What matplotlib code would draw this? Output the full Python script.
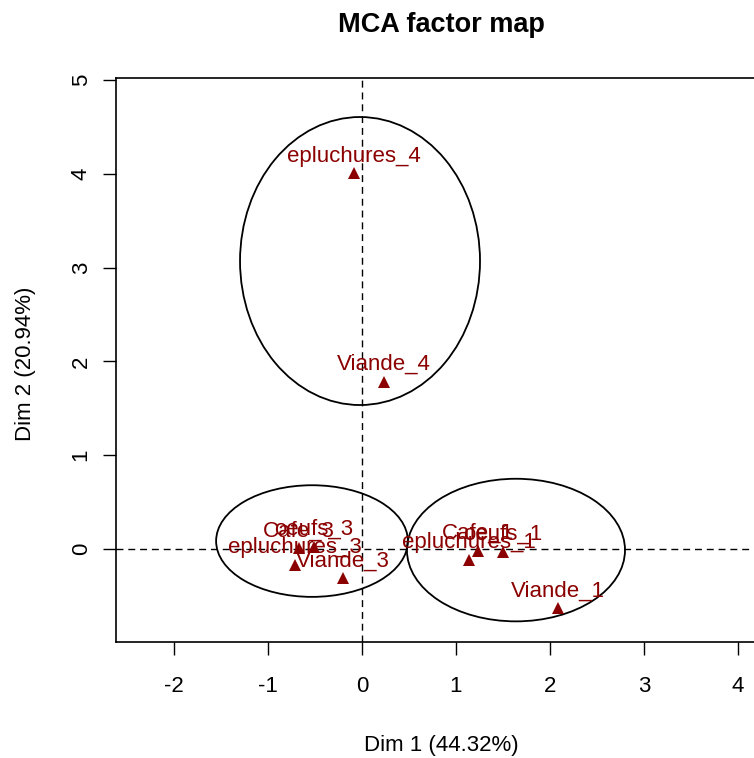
import matplotlib
matplotlib.use("Agg")
import matplotlib.pyplot as plt
from matplotlib.patches import Ellipse

plt.rcParams['font.family'] = ['Liberation Sans', 'DejaVu Sans']

# Category coordinates
labels = ["epluchures_4", "Viande_4", "epluchures_3", "Cafe_3", "oeufs_3", "Viande_3",
          "epluchures_1", "Cafe_1", "oeufs_1", "Viande_1"]
dim1 = [-0.082, 0.234, -0.713, -0.670, -0.511, -0.205, 1.141, 1.237, 1.497, 2.088]
dim2 = [4.005, 1.784, -0.171, 0.007, 0.025, -0.312, -0.117, -0.018, -0.029, -0.631]

# Ellipses: centre x, centre y, width, height
ell_cx = [-0.021, -0.532, 1.638]
ell_cy = [3.07, 0.085, -0.011]
ell_w = [2.553, 2.04, 2.32]
ell_h = [3.07, 1.19, 1.52]

xticks = [-2, -1, 0, 1, 2, 3, 4]
yticks = [0, 1, 2, 3, 4, 5]

W, H = 754, 758
fig = plt.figure(figsize=(W / 100, H / 100), dpi=100)
left, right, top, bottom = 116, 766, 78, 642
ax = fig.add_axes([left / W, 1 - bottom / H, (right - left) / W, (bottom - top) / H])
ax.set_xlim(-2.617, 4.298)
ax.set_ylim(-0.991, 5.021)

col = '#8B0000'
ax.axhline(0, color='black', lw=1.0, dashes=(5, 3.5), zorder=1)
ax.axvline(0, color='black', lw=1.0, dashes=(5, 3.5), zorder=1)

for cx, cy, w, h in zip(ell_cx, ell_cy, ell_w, ell_h):
    ax.add_patch(Ellipse((cx, cy), w, h, fill=False, edgecolor='black', lw=1.3, zorder=2))

ax.plot(dim1, dim2, linestyle='none', marker='^', color=col, markersize=9,
        markeredgewidth=0, zorder=3)
for lab, x, y in zip(labels, dim1, dim2):
    ax.annotate(lab, (x, y), xytext=(0, 8.5), textcoords='offset points',
                ha='center', va='baseline', color=col, fontsize=16, zorder=4)

ax.set_xticks(xticks)
ax.set_yticks(yticks)
ax.set_xticklabels([str(v) for v in xticks])
ax.set_yticklabels([str(v) for v in yticks], rotation=90, va='center')
ax.tick_params(axis='both', direction='out', length=9.5, width=1.0, labelsize=16, color='black')
ax.tick_params(axis='x', pad=15)
ax.tick_params(axis='y', pad=8)
for s in ax.spines.values():
    s.set_linewidth(1.2)
    s.set_color('black')

fig.text(441 / W, 1 - 25 / H, "MCA factor map", ha='center', va='center',
         fontsize=19.5, fontweight='bold')
fig.text(441 / W, 1 - 745 / H, "Dim 1 (44.32%)", ha='center', va='center', fontsize=16)
fig.text(25 / W, 1 - 364 / H, "Dim 2 (20.94%)", ha='center', va='center', fontsize=16,
         rotation=90)

fig.savefig("out.png", dpi=100)
